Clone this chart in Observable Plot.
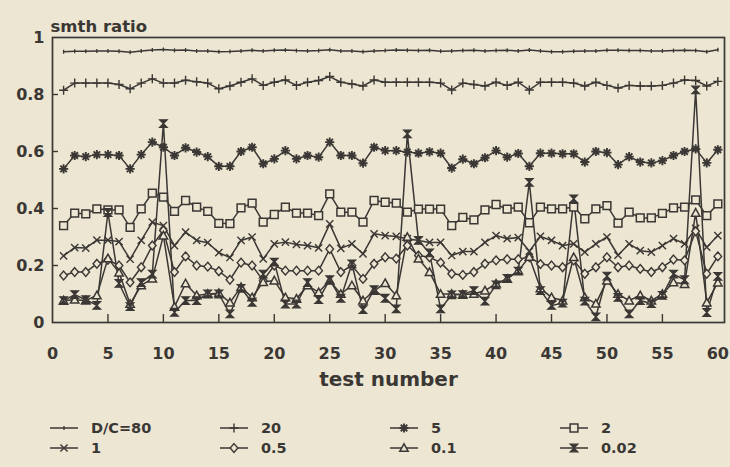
<!DOCTYPE html>
<html><head><meta charset="utf-8">
<script src="https://cdn.jsdelivr.net/npm/d3@7"></script>
<script src="https://cdn.jsdelivr.net/npm/@observablehq/plot@0.6"></script>
<style>
html,body{margin:0;padding:0;background:#ece6d2;}
#wrap{position:relative;width:730px;height:467px;background:#ece6d2;overflow:hidden;
  font-family:"DejaVu Sans",sans-serif;font-weight:bold;color:#3b3734;}
.leg{position:absolute;display:flex;align-items:center;font-size:14.5px;white-space:nowrap;}
.leg svg{display:block;margin-right:12px;}
</style></head>
<body><div id="wrap"><div id="chart"></div></div>
<script>
// ---- data ----
const testNumber = d3.range(1, 61);
const seriesNames = ["D/C=80", "20", "5", "2", "1", "0.5", "0.1", "0.02"];
const dc80 = [0.950,0.952,0.952,0.953,0.953,0.952,0.948,0.953,0.956,0.958,
              0.955,0.956,0.953,0.953,0.950,0.951,0.953,0.955,0.953,0.955,
              0.956,0.954,0.953,0.954,0.957,0.953,0.953,0.950,0.953,0.954,
              0.956,0.955,0.954,0.955,0.952,0.953,0.954,0.955,0.953,0.954,
              0.955,0.953,0.956,0.953,0.950,0.950,0.952,0.953,0.953,0.955,
              0.955,0.954,0.954,0.953,0.953,0.954,0.955,0.954,0.950,0.957];
const dc20 = [0.815,0.840,0.840,0.840,0.840,0.835,0.820,0.840,0.855,0.840,
              0.840,0.850,0.845,0.840,0.820,0.830,0.843,0.855,0.832,0.843,
              0.851,0.832,0.843,0.849,0.863,0.843,0.837,0.830,0.851,0.843,
              0.843,0.843,0.843,0.843,0.840,0.816,0.840,0.835,0.830,0.843,
              0.832,0.843,0.816,0.843,0.843,0.843,0.840,0.830,0.843,0.832,
              0.823,0.832,0.830,0.830,0.832,0.840,0.851,0.849,0.830,0.846];
const dc5 = [0.539,0.586,0.582,0.589,0.589,0.586,0.539,0.589,0.633,0.615,
             0.586,0.613,0.598,0.582,0.548,0.548,0.600,0.615,0.557,0.574,
             0.603,0.574,0.586,0.580,0.633,0.586,0.586,0.559,0.615,0.603,
             0.603,0.598,0.594,0.599,0.594,0.542,0.573,0.557,0.578,0.603,
             0.580,0.593,0.548,0.594,0.594,0.592,0.592,0.563,0.600,0.596,
             0.554,0.582,0.563,0.560,0.568,0.586,0.600,0.609,0.560,0.606];
const dc2 = [0.340,0.384,0.381,0.399,0.395,0.395,0.334,0.399,0.454,0.440,
             0.390,0.428,0.405,0.390,0.348,0.347,0.402,0.419,0.352,0.379,
             0.405,0.384,0.384,0.375,0.451,0.387,0.387,0.352,0.428,0.422,
             0.419,0.387,0.398,0.398,0.398,0.340,0.369,0.360,0.395,0.414,
             0.398,0.405,0.350,0.405,0.399,0.399,0.405,0.364,0.399,0.410,
             0.349,0.387,0.367,0.367,0.383,0.402,0.405,0.430,0.375,0.416];
const dc1 = [0.234,0.263,0.261,0.289,0.289,0.284,0.222,0.288,0.352,0.340,
             0.270,0.317,0.288,0.280,0.245,0.228,0.288,0.300,0.223,0.276,
             0.282,0.274,0.270,0.262,0.346,0.260,0.276,0.241,0.311,0.305,
             0.302,0.294,0.288,0.281,0.281,0.235,0.249,0.249,0.281,0.305,
             0.294,0.298,0.250,0.302,0.288,0.270,0.276,0.247,0.276,0.300,
             0.236,0.276,0.252,0.247,0.270,0.294,0.276,0.330,0.264,0.305];
const dc05 = [0.165,0.177,0.177,0.206,0.220,0.200,0.141,0.194,0.270,0.323,
              0.177,0.232,0.200,0.196,0.180,0.150,0.210,0.200,0.147,0.200,
              0.182,0.182,0.182,0.182,0.258,0.177,0.200,0.153,0.206,0.229,
              0.224,0.270,0.235,0.229,0.210,0.171,0.167,0.177,0.206,0.218,
              0.222,0.222,0.230,0.205,0.200,0.194,0.218,0.171,0.194,0.229,
              0.194,0.200,0.188,0.177,0.194,0.221,0.218,0.320,0.171,0.232];
const dc01 = [0.077,0.080,0.077,0.095,0.225,0.175,0.065,0.130,0.154,0.305,
              0.055,0.137,0.095,0.100,0.103,0.070,0.124,0.088,0.142,0.147,
              0.088,0.083,0.130,0.106,0.147,0.100,0.130,0.077,0.111,0.138,
              0.095,0.300,0.224,0.177,0.100,0.100,0.098,0.100,0.112,0.136,
              0.153,0.182,0.230,0.120,0.088,0.077,0.229,0.088,0.066,0.147,
              0.100,0.077,0.095,0.077,0.100,0.141,0.135,0.385,0.070,0.140];
const dc002 = [0.077,0.098,0.080,0.060,0.386,0.137,0.056,0.140,0.170,0.698,
               0.036,0.077,0.077,0.100,0.100,0.030,0.120,0.071,0.170,0.212,
               0.065,0.065,0.140,0.080,0.150,0.085,0.206,0.045,0.115,0.085,
               0.048,0.662,0.288,0.244,0.048,0.097,0.098,0.112,0.075,0.132,
               0.155,0.180,0.492,0.112,0.060,0.068,0.434,0.075,0.020,0.163,
               0.088,0.030,0.077,0.066,0.095,0.170,0.150,0.816,0.035,0.162];
const xTicks = [0, 5, 10, 15, 20, 25, 30, 35, 40, 45, 50, 55, 60];
const yTicks = [0, 0.2, 0.4, 0.6, 0.8, 1];
const yTickLabels = ["0", "0.2", "0.4", "0.6", "0.8", "1"];

// ---- styles ----
const ink = "#3b3734";
const bg = "#ece6d2";
const font = "DejaVu Sans, sans-serif";
const frameW = 730 - 52 - 6, frameH = 322 - 37;

const rad = s => Math.sqrt(s / Math.PI);
const symTick = {draw(c, s){const r = rad(s); c.moveTo(0, -r); c.lineTo(0, r);}};
const symPlus = {draw(c, s){const r = rad(s); c.moveTo(-r, 0); c.lineTo(r, 0); c.moveTo(0, -r); c.lineTo(0, r);}};
const symAst = {draw(c, s){const r = rad(s); for (let k = 0; k < 4; k++){const a = k*Math.PI/4; c.moveTo(-r*Math.cos(a), -r*Math.sin(a)); c.lineTo(r*Math.cos(a), r*Math.sin(a));}}};
const symSquare = {draw(c, s){const r = rad(s); c.moveTo(-r, -r); c.lineTo(r, -r); c.lineTo(r, r); c.lineTo(-r, r); c.closePath();}};
const symTimes = {draw(c, s){const r = rad(s); c.moveTo(-r, -r); c.lineTo(r, r); c.moveTo(r, -r); c.lineTo(-r, r);}};
const symDiamond = {draw(c, s){const r = rad(s); c.moveTo(0, -r*1.15); c.lineTo(r, 0); c.lineTo(0, r*1.15); c.lineTo(-r, 0); c.closePath();}};
const symTri = {draw(c, s){const r = rad(s); c.moveTo(0, -r); c.lineTo(r, r*0.8); c.lineTo(-r, r*0.8); c.closePath();}};
const symHour = {draw(c, s){const r = rad(s); c.moveTo(-r, -r); c.lineTo(r, -r); c.lineTo(-r, r); c.lineTo(r, r); c.closePath();}};

const seriesValues = [dc80, dc20, dc5, dc2, dc1, dc05, dc01, dc002];
const seriesStyle = [
  {symbol: symTick, r: 2, fill: "none", sw: 1.3},
  {symbol: symPlus, r: 4.5, fill: "none", sw: 1.4},
  {symbol: symAst, r: 4.6, fill: "none", sw: 1.9},
  {symbol: symSquare, r: 3.9, fill: bg, sw: 1.5},
  {symbol: symTimes, r: 3.6, fill: "none", sw: 1.4},
  {symbol: symDiamond, r: 3.8, fill: bg, sw: 1.4},
  {symbol: symTri, r: 4.2, fill: bg, sw: 1.5},
  {symbol: symHour, r: 3.8, fill: ink, sw: 1.2}
];

const rows = seriesNames.flatMap((name, si) =>
  seriesValues[si].map((v, i) => ({n: testNumber[i], v, s: name})));

const marks = [
  Plot.frame({stroke: ink, strokeWidth: 1.7}),
  // inward tick marks
  Plot.tickX(xTicks.filter(d => d > 0 && d < 60), {x: d => d, stroke: ink, strokeWidth: 1.4, insetTop: frameH - 8}),
  Plot.tickY(yTicks.filter(d => d > 0 && d < 1), {y: d => d, stroke: ink, strokeWidth: 1.4, insetRight: frameW - 6}),
  Plot.axisX(xTicks, {tickSize: 0, tickPadding: 25, fontSize: 16, fontWeight: "bold", label: null}),
  Plot.axisY(yTicks, {tickSize: 0, tickPadding: 8, fontSize: 16, fontWeight: "bold", label: null,
    tickFormat: d => yTickLabels[yTicks.indexOf(d)]}),
  Plot.line(rows, {x: "n", y: "v", z: "s", stroke: ink, strokeWidth: 1.5})
];
seriesNames.forEach((name, si) => {
  const st = seriesStyle[si];
  marks.push(Plot.dot(rows.filter(d => d.s === name), {
    x: "n", y: "v", symbol: st.symbol, r: st.r, fill: st.fill, stroke: ink, strokeWidth: st.sw
  }));
});
marks.push(Plot.text(["smth ratio"], {frameAnchor: "top-left", dx: -2, dy: -17, textAnchor: "start",
  fontSize: 16.5, fontWeight: "bold", fill: ink}));
marks.push(Plot.text(["test number"], {frameAnchor: "bottom", dy: 63, fontSize: 20, fontWeight: "bold", fill: ink}));

const H = 400;
const chart = Plot.plot({
  width: 730, height: H,
  marginLeft: 52, marginRight: 6, marginTop: 37, marginBottom: H - 322,
  x: {domain: [0, 60.6]},
  y: {domain: [0, 1]},
  style: {background: "transparent", color: ink, fontFamily: font, fontWeight: "bold", overflow: "visible"},
  marks
});
document.getElementById("chart").appendChild(chart);

// ---- legend (HTML below the SVG) ----
const wrap = document.getElementById("wrap");
const legCols = [49, 219, 389, 559];
const legRows = [428, 448];
seriesNames.forEach((name, si) => {
  const st = seriesStyle[si];
  const div = document.createElement("div");
  div.className = "leg";
  div.style.left = legCols[si % 4] + "px";
  div.style.top = (legRows[Math.floor(si / 4)] - 9) + "px";
  const sym = d3.symbol(st.symbol, st.r * st.r * Math.PI)();
  div.innerHTML = `<svg width="30" height="18" viewBox="0 0 30 18">
    <line x1="1" x2="29" y1="9" y2="9" stroke="${ink}" stroke-width="1.5"/>
    <path d="${sym}" transform="translate(15,9)" fill="${st.fill}" stroke="${ink}" stroke-width="${st.sw}"/>
  </svg><span>${name}</span>`;
  wrap.appendChild(div);
});
</script>
</body></html>
